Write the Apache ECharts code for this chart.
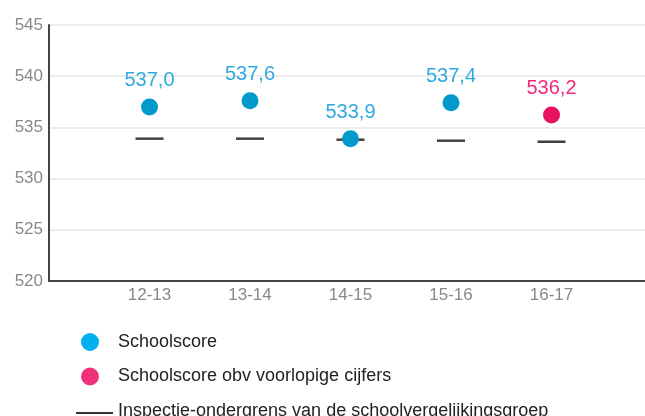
<!DOCTYPE html>
<html>
<head>
<meta charset="utf-8">
<script src="https://cdn.jsdelivr.net/npm/echarts@6/dist/echarts.min.js"></script>
<style>html,body{margin:0;padding:0;background:#fff;overflow:hidden}#c{width:655px;height:416px}</style>
</head>
<body>
<div id="c"></div>
<script>
const categories = ['12-13', '13-14', '14-15', '15-16', '16-17'];
const schoolscore = [537.0, 537.6, 533.9, 537.4, null];
const voorlopig = [null, null, null, null, 536.2];
const ondergrens = [533.9, 533.9, 533.8, 533.7, 533.6];
const yTicks = { min: 520, max: 545, interval: 5 };

const names = ['Schoolscore', 'Schoolscore obv voorlopige cijfers', 'Inspectie-ondergrens van de schoolvergelijkingsgroep'];
const pad = [''].concat(categories, ['']);
const toPairs = arr => categories.map((c, i) => [c, arr[i]]).filter(p => p[1] != null);
const fmt = p => p.value[1].toFixed(1).replace('.', ',');
const font = 'Liberation Sans, Arial, sans-serif';
const ext = 'M0,0L0.01,0L0,0.01Z M37,18L36.99,18L37,17.99Z ';
const dotIcon = 'path://' + ext + 'M5,9A9,9 0 1,1 23,9A9,9 0 1,1 5,9Z';
const lineIcon = 'path://' + ext + 'M0,10L37,10L37,12L0,12Z';

const chart = echarts.init(document.getElementById('c'));
chart.setOption({
  animation: false,
  grid: { left: 49, top: 25, bottom: 135, right: 0, containLabel: false },
  xAxis: {
    type: 'category', data: pad, boundaryGap: false,
    axisLine: { lineStyle: { color: '#444', width: 2 } },
    axisTick: { show: false },
    axisLabel: { color: '#888', fontSize: 17, fontFamily: font, margin: 6, interval: 0 },
    splitLine: { show: false }
  },
  yAxis: {
    type: 'value', min: yTicks.min, max: yTicks.max, interval: yTicks.interval,
    axisLine: { show: true, lineStyle: { color: '#444', width: 2 } },
    axisTick: { show: false },
    axisLabel: { color: '#888', fontSize: 17, fontFamily: font, margin: 6 },
    splitLine: { lineStyle: { color: '#e6e6e6', width: 1.5 } }
  },
  legend: {
    orient: 'vertical', left: 76, top: 333, height: 120, padding: 0,
    itemWidth: 37, itemHeight: 18, itemGap: 16.5,
    selectedMode: false,
    textStyle: { color: '#222', fontSize: 18, fontFamily: font },
    data: [
      { name: names[0], icon: dotIcon, itemStyle: { color: '#00b0f0' } },
      { name: names[1], icon: dotIcon, itemStyle: { color: '#f0307a' } },
      { name: names[2], icon: lineIcon, itemStyle: { color: '#000' } }
    ]
  },
  series: [
    {
      name: names[2], type: 'scatter', z: 1,
      symbol: 'rect', symbolSize: [28, 2.5],
      itemStyle: { color: '#111' },
      data: toPairs(ondergrens)
    },
    {
      name: names[0], type: 'scatter', z: 3,
      symbolSize: 17,
      itemStyle: { color: '#0099cc', opacity: 1 },
      label: { show: true, position: 'top', distance: 8, formatter: fmt, color: '#2fa9df', fontSize: 20, fontFamily: font },
      data: toPairs(schoolscore)
    },
    {
      name: names[1], type: 'scatter', z: 3,
      symbolSize: 17,
      itemStyle: { color: '#e8115f', opacity: 1 },
      label: { show: true, position: 'top', distance: 8, formatter: fmt, color: '#ee2a78', fontSize: 20, fontFamily: font },
      data: toPairs(voorlopig)
    }
  ]
});
</script>
</body>
</html>
